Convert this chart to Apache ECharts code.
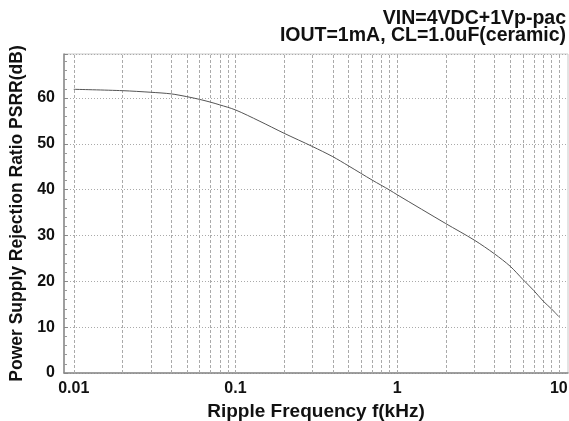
<!DOCTYPE html>
<html>
<head>
<meta charset="utf-8">
<script src="https://cdn.jsdelivr.net/npm/echarts@6/dist/echarts.min.js"></script>
<style>html,body{margin:0;padding:0;background:#fff}#c{width:569px;height:421px}</style>
</head>
<body>
<div id="c"></div>
<script>
const freqKHz = [0.01,0.02,0.03,0.04,0.05,0.06,0.07,0.08,0.1,0.14,0.2,0.3,0.4,0.5,0.7,0.9,1.0,2,3,4,5,6,7,8,9,10];
const psrrDb  = [61.9,61.6,61.25,60.9,60.3,59.7,59.1,58.5,57.4,55.0,52.3,49.4,47.2,45.2,42.1,39.9,38.9,32.6,29.0,26.0,23.3,20.4,18.0,15.7,14.0,12.3];
const xGridValues = [0.009,0.01,0.02,0.03,0.04,0.05,0.06,0.07,0.08,0.09,0.1,0.2,0.3,0.4,0.5,0.6,0.7,0.8,0.9,1,2,3,4,5,6,7,8,9,10];
const titleLines = ['VIN=4VDC+1Vp-pac', 'IOUT=1mA, CL=1.0uF(ceramic)'];
const xName = 'Ripple Frequency f(kHz)';
const yName = 'Power Supply Rejection Ratio PSRR(dB)';

const FONT = '"Liberation Sans", Arial, sans-serif';
const chart = echarts.init(document.getElementById('c'), null, {renderer: 'canvas'});
chart.setOption({
  animation: false,
  backgroundColor: '#fff',
  title: [
    {text: titleLines[0], right: 3, top: 9, padding: 0, textStyle: {fontFamily: FONT, fontSize: 19.5, fontWeight: 'bold', color: '#111'}},
    {text: titleLines[1], right: 3, top: 26, padding: 0, textStyle: {fontFamily: FONT, fontSize: 19.5, fontWeight: 'bold', color: '#111'}}
  ],
  grid: {left: 64, right: 1, top: 54, bottom: 48, show: true, borderColor: '#c8c8c8', borderWidth: 1, outerBoundsMode: 'none', containLabel: false},
  xAxis: {
    type: 'log', logBase: 10, min: 0.0087, max: 11.4,
    name: xName, nameLocation: 'middle', nameGap: 27,
    nameTextStyle: {fontFamily: FONT, fontSize: 19, fontWeight: 'bold', color: '#111'},
    axisLine: {show: true, lineStyle: {color: '#888', width: 1.5}},
    axisTick: {show: false},
    splitLine: {show: false},
    axisLabel: {
      showMinLabel: false, showMaxLabel: false, margin: 8,
      fontFamily: FONT, fontSize: 16, fontWeight: 'bold', color: '#111',
      formatter: v => String(+(+v).toPrecision(3))
    }
  },
  yAxis: {
    type: 'value', min: 0, max: 69.6, interval: 10,
    name: yName, nameLocation: 'middle', nameGap: 35,
    nameTextStyle: {fontFamily: FONT, fontSize: 17.5, fontWeight: 'bold', color: '#111'},
    axisLine: {show: true, lineStyle: {color: '#888', width: 1.5}},
    axisTick: {show: true, inside: true, length: 4, lineStyle: {color: '#888'}},
    minorTick: {show: true, splitNumber: 5, length: 3, lineStyle: {color: '#999'}},
    splitLine: {show: true, lineStyle: {color: '#aaa', type: [1, 2], width: 1}},
    axisLabel: {
      showMaxLabel: false, margin: 9,
      fontFamily: FONT, fontSize: 16, fontWeight: 'bold', color: '#111'
    }
  },
  series: [{
    type: 'line',
    data: freqKHz.map((f, i) => [f, psrrDb[i]]),
    smooth: 0.3,
    showSymbol: false,
    lineStyle: {color: '#555', width: 1},
    z: 5,
    markLine: {
      silent: true, symbol: 'none', label: {show: false},
      lineStyle: {color: '#aaa', type: [3, 2], width: 1},
      data: xGridValues.map(v => ({xAxis: v}))
    }
  }]
});
</script>
</body>
</html>
